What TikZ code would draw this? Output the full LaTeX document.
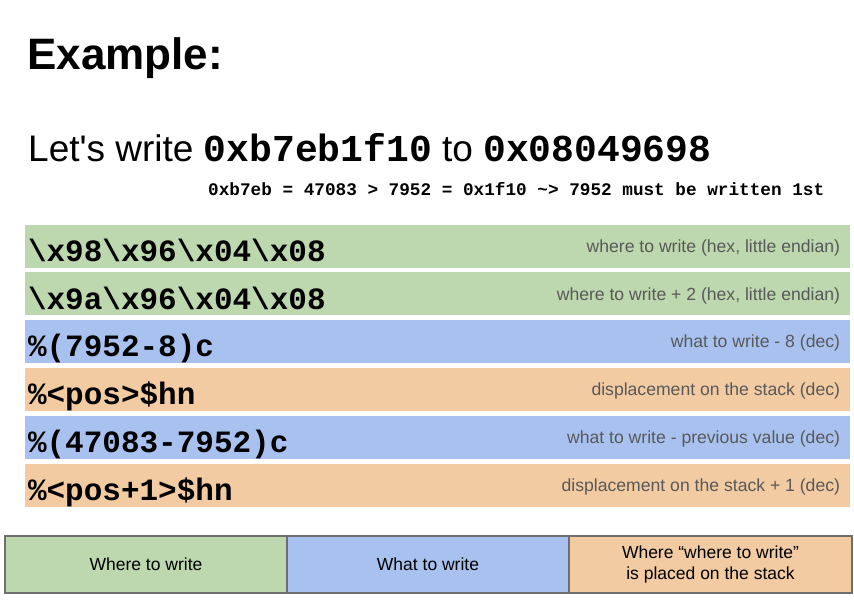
\documentclass[tikz,border=0pt]{standalone}
\usepackage{fontspec}
\setmainfont{Liberation Sans}
\setmonofont{Liberation Mono}
\definecolor{grn}{HTML}{BDD7AE}
\definecolor{blu}{HTML}{A8C1EF}
\definecolor{org}{HTML}{F2CBA2}
\definecolor{lbl}{HTML}{595959}
\tikzset{
  bar/.style={inner sep=0, minimum width=825pt, minimum height=43pt},
  code/.style={anchor=base west, inner sep=0, font=\ttfamily\bfseries\fontsize{31}{31}\selectfont},
  note/.style={anchor=base east, inner sep=0, text=lbl, font=\fontsize{17.6}{18}\selectfont},
  cell/.style={draw=black!57, line width=2pt, minimum width=282pt, minimum height=57pt, align=center, font=\fontsize{17.5}{21}\selectfont}
}
\begin{document}
\begin{tikzpicture}[x=1pt, y=-1pt]
\useasboundingbox (0,0) rectangle (854,602);
\node[anchor=base west, inner sep=0, font=\bfseries\fontsize{44}{44}\selectfont] (title) at (27,70) {Example:};
\node[anchor=base west, inner sep=0, font=\fontsize{37}{37}\selectfont] (intro) at (28,161) {Let\textquotesingle s write \texttt{\bfseries\fontsize{38}{38}\selectfont 0xb7eb1f10} to \texttt{\bfseries\fontsize{38}{38}\selectfont 0x08049698}};
\node[anchor=base west, inner sep=0, font=\ttfamily\bfseries\fontsize{17.7}{18}\selectfont] (order) at (208,195) {0xb7eb = 47083 > 7952 = 0x1f10 \textasciitilde> 7952 must be written 1st};
% the format string, piece by piece
\node[bar, fill=grn] (b1) at (437.5,246) {};
\node[bar, fill=grn] (b2) at (437.5,293.8) {};
\node[bar, fill=blu] (b3) at (437.5,341.6) {};
\node[bar, fill=org] (b4) at (437.5,389.4) {};
\node[bar, fill=blu] (b5) at (437.5,437.2) {};
\node[bar, fill=org] (b6) at (437.5,485) {};
\node[code] (c1) at ([xshift=3pt, yshift=-37pt]b1.north west) {\textbackslash x98\textbackslash x96\textbackslash x04\textbackslash x08};
\node[code] (c2) at ([xshift=3pt, yshift=-37pt]b2.north west) {\textbackslash x9a\textbackslash x96\textbackslash x04\textbackslash x08};
\node[code] (c3) at ([xshift=3pt, yshift=-37pt]b3.north west) {\%(7952-8)c};
\node[code] (c4) at ([xshift=3pt, yshift=-37pt]b4.north west) {\%<pos>\$hn};
\node[code] (c5) at ([xshift=3pt, yshift=-37pt]b5.north west) {\%(47083-7952)c};
\node[code] (c6) at ([xshift=3pt, yshift=-37pt]b6.north west) {\%<pos+1>\$hn};
\node[note] (n1) at ([xshift=-10pt, yshift=-28pt]b1.north east) {where to write (hex, little endian)};
\node[note] (n2) at ([xshift=-10pt, yshift=-28pt]b2.north east) {where to write + 2 (hex, little endian)};
\node[note] (n3) at ([xshift=-10pt, yshift=-28pt]b3.north east) {what to write - 8 (dec)};
\node[note] (n4) at ([xshift=-10pt, yshift=-28pt]b4.north east) {displacement on the stack (dec)};
\node[note] (n5) at ([xshift=-10pt, yshift=-28pt]b5.north east) {what to write - previous value (dec)};
\node[note] (n6) at ([xshift=-10pt, yshift=-28pt]b6.north east) {displacement on the stack + 1 (dec)};
% legend
\node[cell, fill=grn] (k1) at (146,564) {Where to write};
\node[cell, fill=blu] (k2) at (428,564) {What to write};
\node[cell, fill=org, minimum width=283pt] (k3) at (710.5,564) {Where “where to write”\\is placed on the stack};
\end{tikzpicture}
\end{document}
